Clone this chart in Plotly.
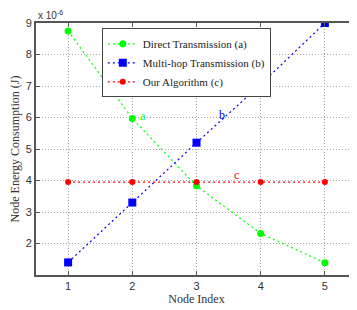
import plotly.graph_objects as go

nodes = [1, 2, 3, 4, 5]
direct = [8.75, 5.97, 3.83, 2.32, 1.39]
multihop = [1.4, 3.3, 5.2, 7.05, 9.0]
ours = [3.95, 3.95, 3.95, 3.95, 3.95]
names = ["Direct Transmission (a)", "Multi-hop Transmission (b)", "Our Algorithm (c)"]
colors = ["#00ff00", "#0000ff", "#ff0000"]

serif = "Liberation Serif"
fig = go.Figure()
fig.add_trace(go.Scatter(x=nodes, y=direct, name=names[0], mode="lines+markers",
                         line=dict(color=colors[0], dash="2px,3px", width=1.2),
                         marker=dict(symbol="circle", size=7, color=colors[0])))
fig.add_trace(go.Scatter(x=nodes, y=multihop, name=names[1], mode="lines+markers",
                         line=dict(color=colors[1], dash="2px,3px", width=1.2),
                         marker=dict(symbol="square", size=8, color=colors[1])))
fig.add_trace(go.Scatter(x=nodes, y=ours, name=names[2], mode="lines+markers",
                         line=dict(color=colors[2], dash="2px,3px", width=1.2),
                         marker=dict(symbol="circle", size=6, color=colors[2])))

for txt, x, y, c in [("a", 2.17, 6.06, colors[0]), ("b", 3.39, 6.09, colors[1]), ("c", 3.62, 4.16, colors[2])]:
    fig.add_annotation(x=x, y=y, text=txt, showarrow=False,
                       font=dict(family=serif, size=12, color=c))

fig.add_annotation(xref="paper", yref="paper", x=0, y=1, xanchor="left", yanchor="bottom",
                   text="x 10<sup>-6</sup>", showarrow=False, yshift=0,
                   font=dict(family="Liberation Sans", size=10, color="#333"))

axis_common = dict(showgrid=True, gridcolor="#a8a8a8", griddash="1px,2px", gridwidth=1,
                   showline=True, linecolor="#555", linewidth=2, mirror="ticks",
                   ticks="inside", ticklen=4, tickcolor="#555", zeroline=False,
                   automargin=False,
                   tickfont=dict(family="Liberation Sans", size=11, color="#333"))

fig.update_layout(
    width=349, height=302,
    margin=dict(l=28, r=0, t=15, b=35),
    paper_bgcolor="white", plot_bgcolor="white",
    showlegend=True,
    legend=dict(x=0.205, y=0.979, xanchor="left", yanchor="top",
                bgcolor="white", bordercolor="#444", borderwidth=1,
                font=dict(family=serif, size=11, color="#222"),
                tracegroupgap=0, itemwidth=30),
    xaxis=dict(range=[0.5, 5.5], tickvals=nodes, title=dict(text="Node Index", standoff=2,
               font=dict(family=serif, size=12, color="#333")), **axis_common),
    yaxis=dict(range=[1, 9], tickvals=[2, 3, 4, 5, 6, 7, 8, 9],
               title=dict(text="Node Energy Consumption (J)", standoff=6,
                          font=dict(family=serif, size=12, color="#333")), **axis_common),
)
fig.write_html("out.html")
